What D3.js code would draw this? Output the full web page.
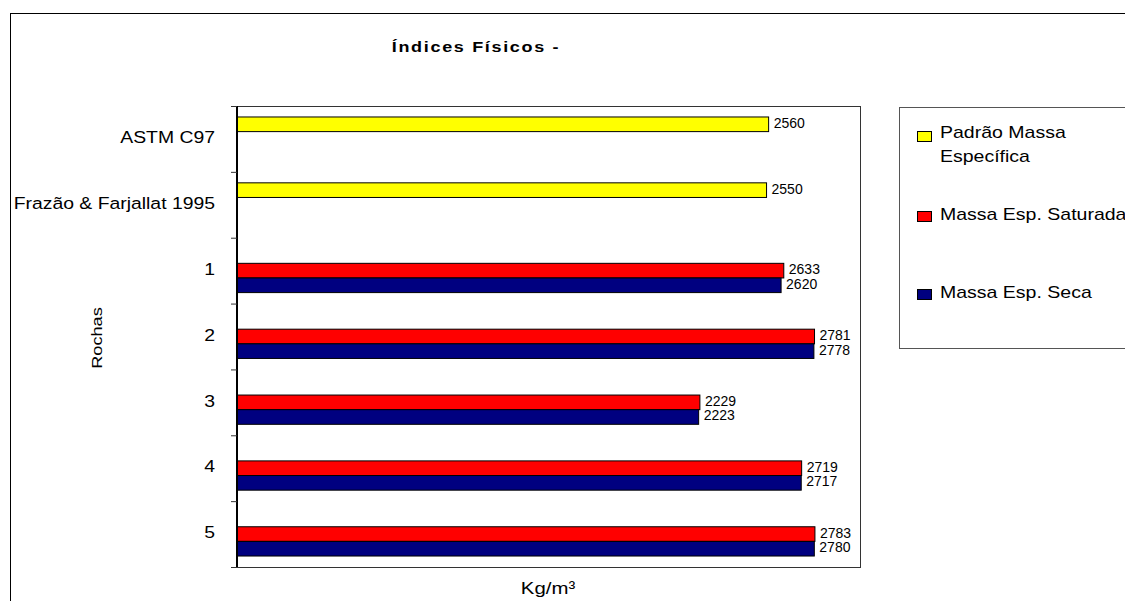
<!DOCTYPE html>
<html>
<head>
<meta charset="utf-8">
<script src="https://cdn.jsdelivr.net/npm/d3@7"></script>
<style>
  html, body { margin: 0; padding: 0; background: #fff; }
  svg { display: block; font-family: "Liberation Sans", Arial, sans-serif; }
</style>
</head>
<body>
<svg id="chart" width="1125" height="601"></svg>
<script>
// Categories (top to bottom) and the three series
const categories = ["ASTM C97", "Frazão & Farjallat 1995", "1", "2", "3", "4", "5"];
const seriesNames = ["Padrão Massa Específica", "Massa Esp. Saturada", "Massa Esp. Seca"];
const padrao   = [2560, 2550, null, null, null, null, null];
const saturada = [null, null, 2633, 2781, 2229, 2719, 2783];
const seca     = [null, null, 2620, 2778, 2223, 2717, 2780];
const colors = ["#FFFF00", "#FF0000", "#000080"];
const xDomain = [0, 3000];

const svg = d3.select("#chart");

// outer chart frame
svg.append("rect")
  .attr("x", 10.5).attr("y", 13.5)
  .attr("width", 1200).attr("height", 700)
  .attr("fill", "none").attr("stroke", "#000").attr("stroke-width", 1);

const plot = { left: 237, top: 106, right: 860, bottom: 567 };

const x = d3.scaleLinear().domain(xDomain).range([plot.left, plot.right]);
const y = d3.scaleBand().domain(categories).range([plot.top, plot.bottom]).padding(0);
const ySeries = d3.scaleBand().domain(d3.range(3)).range([0, y.bandwidth()])
  .paddingInner(0).paddingOuter(0.75);

// plot area border
svg.append("rect")
  .attr("x", plot.left).attr("y", plot.top + 0.5)
  .attr("width", plot.right - plot.left + 0.5).attr("height", plot.bottom - plot.top)
  .attr("fill", "none").attr("stroke", "#333").attr("stroke-width", 1);

// bars
const seriesData = [padrao, saturada, seca];
const rows = [];
seriesData.forEach((vals, s) => {
  vals.forEach((v, i) => { if (v != null) rows.push({ s, cat: categories[i], v }); });
});

svg.append("g").selectAll("rect")
  .data(rows).join("rect")
  .attr("x", x(0))
  .attr("y", d => y(d.cat) + ySeries(d.s))
  .attr("width", d => x(d.v) - x(0))
  .attr("height", ySeries.bandwidth())
  .attr("fill", d => colors[d.s])
  .attr("stroke", "#000").attr("stroke-width", 1);

// value labels
svg.append("g").selectAll("text")
  .data(rows).join("text")
  .attr("x", d => x(d.v) + 5)
  .attr("y", d => y(d.cat) + ySeries(d.s) + ySeries.bandwidth() / 2)
  .attr("dy", "0.25em")
  .attr("font-size", 14)
  .attr("fill", "#000")
  .text(d => d.v);

// category axis: labels centred on bands, ticks on band edges
const yAxis = svg.append("g")
  .attr("transform", `translate(${plot.left},0)`)
  .call(d3.axisLeft(y).tickSize(0).tickPadding(0));
yAxis.select(".domain").remove();
yAxis.selectAll(".tick text")
  .attr("x", 0).attr("dy", "0.25em")
  .attr("transform", "translate(-22,0) scale(1.14,1)")
  .attr("font-size", 17).attr("fill", "#000")
  .attr("font-family", "'Liberation Sans', Arial, sans-serif");

const edge = d3.scaleLinear().domain([0, categories.length]).range([plot.top, plot.bottom]);
const edgeAxis = svg.append("g")
  .attr("transform", `translate(${plot.left},0)`)
  .call(d3.axisLeft(edge).tickValues(d3.range(categories.length + 1)).tickSize(6).tickFormat(""));
edgeAxis.select(".domain").attr("stroke", "#000").attr("stroke-width", 2)
  .attr("d", `M0,${plot.top}V${plot.bottom}`);
edgeAxis.selectAll(".tick line").attr("stroke", "#333");

// title
svg.append("text")
  .attr("transform", "translate(476,52) scale(1.2,1)")
  .attr("text-anchor", "middle")
  .attr("font-size", 15).attr("font-weight", "bold")
  .attr("letter-spacing", 1.4)
  .text("Índices Físicos -");

// axis titles
svg.append("text")
  .attr("transform", "translate(548,594) scale(1.2,1)")
  .attr("text-anchor", "middle")
  .attr("font-size", 17)
  .text("Kg/m³");

svg.append("text")
  .attr("transform", "translate(102,338) rotate(-90) scale(1.3,1)")
  .attr("text-anchor", "middle")
  .attr("font-size", 14)
  .text("Rochas");

// legend
const legend = svg.append("g");
legend.append("rect")
  .attr("x", 899.5).attr("y", 107.5)
  .attr("width", 300).attr("height", 241)
  .attr("fill", "#fff").attr("stroke", "#555").attr("stroke-width", 1);

const legendItems = [
  { lines: ["Padrão Massa", "Específica"], swatchY: 131, baseY: 138 },
  { lines: ["Massa Esp. Saturada"], swatchY: 211, baseY: 220 },
  { lines: ["Massa Esp. Seca"], swatchY: 289, baseY: 298 }
];
legendItems.forEach((item, i) => {
  legend.append("rect")
    .attr("x", 917.5).attr("y", item.swatchY + 0.5)
    .attr("width", 14).attr("height", 10)
    .attr("fill", colors[i]).attr("stroke", "#000").attr("stroke-width", 1);
  item.lines.forEach((ln, j) => {
    legend.append("text")
      .attr("transform", `translate(940,${item.baseY + j * 24}) scale(1.22,1)`)
      .attr("font-size", 16).attr("fill", "#000")
      .text(ln);
  });
});
</script>
</body>
</html>
